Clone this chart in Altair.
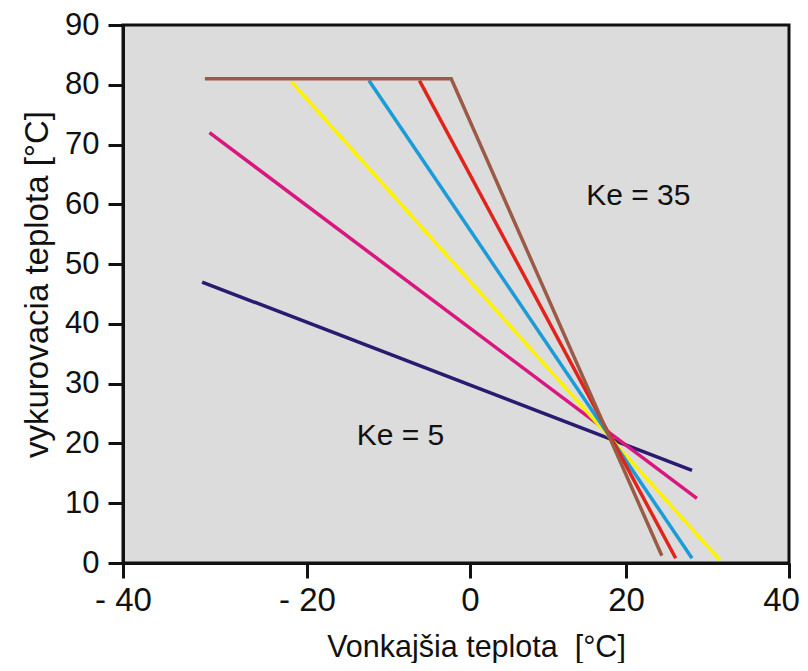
import altair as alt
import pandas as pd

# ---- data ----
series_names = ["Ke 5", "Ke 10", "Ke 15", "Ke 20", "Ke 25", "Ke 35"]
series_colors = ["#2a1a70", "#d9177f", "#fff200", "#1b9bd7", "#e2231a", "#9b5a45"]

navy_x = [-31.4, 28.1]
navy_y = [47.0, 15.5]
magenta_x = [-30.6, 28.7]
magenta_y = [72.0, 10.8]
yellow_x = [-21.7, 31.5]
yellow_y = [80.5, 0.5]
blue_x = [-12.4, 28.1]
blue_y = [80.7, 0.8]
red_x = [-6.2, 26.1]
red_y = [80.7, 0.8]
brown_x = [-31.1, -2.3, 24.4]
brown_y = [81.0, 81.0, 1.2]

x_ticks = [-40, -20, 0, 20, 40]
y_ticks = [0, 10, 20, 30, 40, 50, 60, 70, 80, 90]

label_texts = ["Ke = 35", "Ke = 5"]
label_x = [14.9, -13.9]
label_y = [61.4, 21.3]

# ---- build tables ----
rows = []
all_x = [navy_x, magenta_x, yellow_x, blue_x, red_x, brown_x]
all_y = [navy_y, magenta_y, yellow_y, blue_y, red_y, brown_y]
for name, xs, ys in zip(series_names, all_x, all_y):
    for i, (xv, yv) in enumerate(zip(xs, ys)):
        rows.append({"series": name, "x": xv, "y": yv, "order": i})
lines_df = pd.DataFrame(rows)
labels_df = pd.DataFrame({"text": label_texts, "x": label_x, "y": label_y})

font = "Liberation Sans, Arial, Helvetica, sans-serif"

x_scale = alt.Scale(domain=x_ticks, range=[0, 184, 347, 503, 666], nice=False, zero=False)
y_scale = alt.Scale(domain=[0, 90], nice=False, zero=False)

x_axis = alt.Axis(
    values=x_ticks,
    grid=False,
    domainColor="#111111",
    domainWidth=3,
    tickColor="#111111",
    tickWidth=3,
    tickSize=15,
    labelFont=font,
    labelFontSize=33,
    labelColor="#111111",
    labelPadding=6,
    labelExpr="datum.value < 0 ? '- ' + abs(datum.value) : datum.label",
    labelOffset={"condition": {"test": "datum.value == 40", "value": -8}, "value": 0},
    labelOverlap=False,
    labelFlush=False,
    title="Vonkajšia teplota \u00a0[°C]",
    titleFont=font,
    titleFontSize=30.5,
    titleFontWeight="normal",
    titleColor="#111111",
    titleX=353,
    titleY=93,
    titleBaseline="alphabetic",
)

y_axis = alt.Axis(
    values=y_ticks,
    grid=False,
    domainColor="#111111",
    domainWidth=3,
    tickColor="#111111",
    tickWidth=3,
    tickSize=15,
    labelFont=font,
    labelFontSize=31,
    labelColor="#111111",
    labelPadding=9,
    labelOverlap=False,
    labelFlush=False,
    title="vykurovacia teplota [°C]",
    titleFont=font,
    titleFontSize=33,
    titleFontWeight="normal",
    titleColor="#111111",
    titleX=-76,
    titleY=259,
    titleBaseline="alphabetic",
)

lines = alt.Chart(lines_df).mark_line(strokeWidth=3.5, strokeCap="butt").encode(
    x=alt.X("x:Q", scale=x_scale, axis=x_axis),
    y=alt.Y("y:Q", scale=y_scale, axis=y_axis),
    color=alt.Color("series:N", scale=alt.Scale(domain=series_names, range=series_colors), legend=None),
    order="order:Q",
    detail="series:N",
)

texts = alt.Chart(labels_df).mark_text(
    align="left", baseline="middle", font=font, fontSize=30, color="#111111"
).encode(
    x=alt.X("x:Q", scale=x_scale),
    y=alt.Y("y:Q", scale=y_scale),
    text="text:N",
)

chart = (
    alt.layer(lines, texts)
    .properties(
        width=666,
        height=538,
        autosize=alt.AutoSizeParams(type="none"),
        padding={"left": 115, "top": 17, "right": 11, "bottom": 100},
        background="white",
    )
    .configure_view(fill="#dcdcdc", stroke="#111111", strokeWidth=3)
)

chart.save("out.html", embed_options={"renderer": "svg", "actions": False})
